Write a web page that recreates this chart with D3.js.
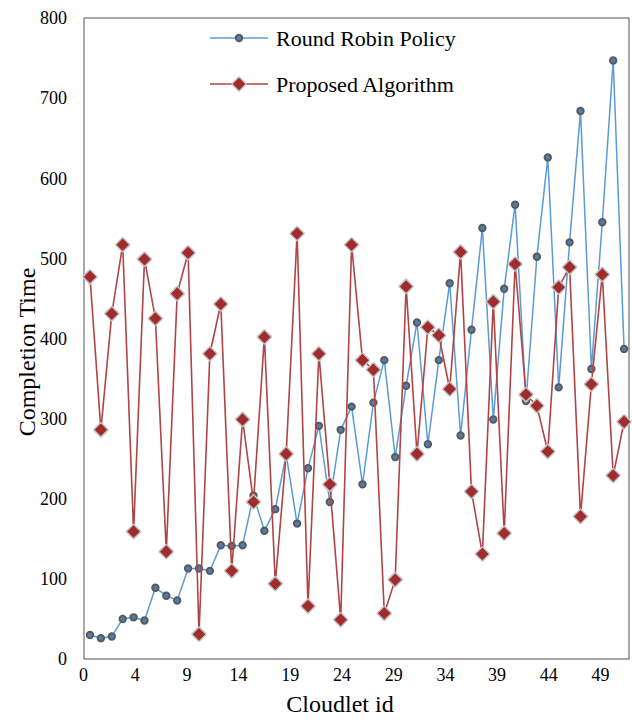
<!DOCTYPE html>
<html>
<head>
<meta charset="utf-8">
<script src="https://cdn.jsdelivr.net/npm/d3@7/dist/d3.min.js"></script>
<style>
  body { margin: 0; background: #fff; }
  text { font-family: "Liberation Serif", "Times New Roman", serif; fill: #000; }
</style>
</head>
<body>
<div id="canvas"></div>
<script>
// values
const roundRobin = [30, 26, 28, 50, 52, 48, 89, 79, 73, 113,
  113, 110, 142, 141, 142, 204, 160, 187, 255, 169,
  238, 291, 196, 286, 315, 218, 320, 373, 252, 341,
  420, 268, 373, 469, 279, 411, 538, 299, 462, 567,
  322, 502, 626, 339, 520, 684, 362, 545, 747, 387];
const proposed = [477, 286, 431, 517, 159, 499, 425, 134, 456, 507,
  31, 381, 443, 110, 299, 196, 402, 94, 256, 531,
  66, 381, 218, 49, 517, 373, 361, 57, 99, 465,
  256, 414, 404, 337, 508, 209, 131, 446, 157, 493,
  330, 316, 259, 464, 489, 178, 343, 480, 229, 296];
const xLabels = ["0", "4", "9", "14", "19", "24", "29", "34", "39", "44", "49"];
const yTicks = [0, 100, 200, 300, 400, 500, 600, 700, 800];
const seriesNames = ["Round Robin Policy", "Proposed Algorithm"];

const width = 632;
const height = 720;
const margin = { top: 18, left: 84, bottom: 61, right: 3 };
const iwidth = width - margin.left - margin.right;
const iheight = height - margin.top - margin.bottom;

const blue = "#5b9bd5";
const red = "#b04446";

const svg = d3.select("#canvas").append("svg")
  .attr("width", width)
  .attr("height", height);

const g = svg.append("g").attr("transform", `translate(${margin.left}, ${margin.top})`);

const x = d3.scaleLinear().domain([-0.55, 49.45]).range([0, iwidth]);
const xLab = d3.scalePoint().domain(xLabels).range([-1, 516]);
const y = d3.scaleLinear().domain([0, 800]).range([iheight, 0]);

// frame
g.append("rect")
  .attr("width", iwidth)
  .attr("height", iheight)
  .attr("fill", "none")
  .attr("stroke", "#555")
  .attr("stroke-width", 1);

const xAxis = g.append("g")
  .attr("transform", `translate(0, ${iheight})`)
  .call(d3.axisBottom(xLab).tickSize(0).tickPadding(9));
xAxis.select(".domain").remove();
xAxis.selectAll("text").style("font-size", "18px").style("font-family", "Liberation Serif");

const yAxis = g.append("g")
  .call(d3.axisLeft(y).tickValues(yTicks).tickSize(0).tickPadding(17));
yAxis.select(".domain").remove();
yAxis.selectAll("text").style("font-size", "18px").style("font-family", "Liberation Serif");

const line = d3.line()
  .x((d, i) => x(i))
  .y((d) => y(d));

const diamond = d3.symbol().type(d3.symbolDiamond2).size(100);

function dot(sel) {
  sel.attr("r", 3.2)
    .attr("fill", "#4a7fb8")
    .attr("stroke", "#5a5a5a")
    .attr("stroke-width", 2);
}
function diam(sel) {
  sel.attr("d", diamond)
    .attr("fill", "#a02c2d")
    .attr("stroke", "#c4c4c4")
    .attr("stroke-width", 3)
    .attr("stroke-linejoin", "round")
    .attr("paint-order", "stroke");
}

// blue series
g.append("path")
  .datum(roundRobin)
  .attr("fill", "none")
  .attr("stroke", blue)
  .attr("stroke-width", 1.5)
  .attr("d", line);

g.selectAll(".rr")
  .data(roundRobin)
  .enter()
  .append("circle")
  .attr("class", "rr")
  .attr("cx", (d, i) => x(i))
  .attr("cy", (d) => y(d))
  .call(dot);

// red series
g.append("path")
  .datum(proposed)
  .attr("fill", "none")
  .attr("stroke", red)
  .attr("stroke-width", 1.6)
  .attr("d", line);

g.selectAll(".pa")
  .data(proposed)
  .enter()
  .append("path")
  .attr("class", "pa")
  .attr("transform", (d, i) => `translate(${x(i)}, ${y(d)})`)
  .call(diam);

// legend
const legend = svg.append("g").attr("transform", "translate(210, 0)");
legend.append("line")
  .attr("x1", 0).attr("x2", 58).attr("y1", 38).attr("y2", 38)
  .attr("stroke", blue).attr("stroke-width", 1.5);
legend.append("circle")
  .attr("cx", 29).attr("cy", 38)
  .call(dot);
legend.append("text")
  .attr("x", 66).attr("y", 46)
  .style("font-size", "22px")
  .text(seriesNames[0]);

legend.append("line")
  .attr("x1", 0).attr("x2", 58).attr("y1", 84).attr("y2", 84)
  .attr("stroke", red).attr("stroke-width", 1.6);
legend.append("path")
  .attr("transform", "translate(29, 84)")
  .call(diam);
legend.append("text")
  .attr("x", 66).attr("y", 92)
  .style("font-size", "22px")
  .text(seriesNames[1]);

// axis titles
svg.append("text")
  .attr("text-anchor", "middle")
  .style("font-size", "24px")
  .attr("x", 340)
  .attr("y", 712)
  .text("Cloudlet id");

svg.append("text")
  .attr("text-anchor", "middle")
  .style("font-size", "24px")
  .attr("transform", "translate(35, 352) rotate(-90)")
  .text("Completion Time");
</script>
</body>
</html>
